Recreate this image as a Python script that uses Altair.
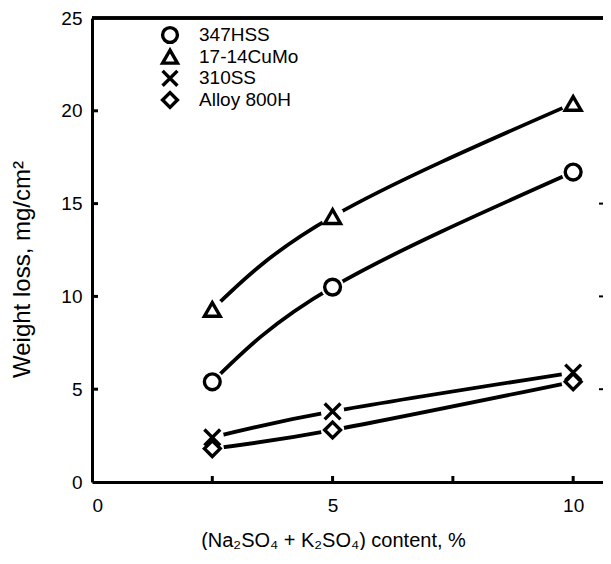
import altair as alt
import pandas as pd

# ---- data ----
content = [2.5, 5, 10]
hss347 = [5.4, 10.5, 16.7]
cumo1714 = [9.3, 14.3, 20.4]
ss310 = [2.4, 3.8, 5.9]
alloy800h = [1.8, 2.8, 5.4]
series = ["347HSS", "17-14CuMo", "310SS", "Alloy 800H"]
x_labels = [0, 5, 10]
x_minor = [2.5, 5, 7.5, 10]
y_labels = [0, 5, 10, 15, 20, 25]
y_inner = [5, 10, 15, 20]
y_right = [5, 10, 15]

rows = []
for name, vals in zip(series, [hss347, cumo1714, ss310, alloy800h]):
    for c, v in zip(content, vals):
        rows.append({"content": c, "loss": v, "series": name})
df = pd.DataFrame(rows)
leg = pd.DataFrame({"series": series})

W, H = 511, 464
FONT = "Liberation Sans"

x_scale = alt.Scale(domain=[0, 10.62], nice=False, zero=False)
y_scale = alt.Scale(domain=[0, 25], nice=False)

x_enc = alt.X(
    "content:Q",
    scale=x_scale,
    axis=alt.Axis(
        values=x_labels, ticks=False, grid=False, domainColor="black", domainWidth=3,
        labelFontSize=19, labelPadding=14, labelColor="black", labelFont=FONT,
        title="(Na₂SO₄ + K₂SO₄) content, %", titleFontSize=20, titleFont=FONT,
        titleFontWeight="normal", titleColor="black", titleX=241, titleY=58,
        titleAnchor="middle", titleAlign="center", titleBaseline="middle",
    ),
)
y_axis = alt.Axis(
    values=y_labels, ticks=False, grid=False, domainColor="black", domainWidth=3,
    labelFontSize=19, labelPadding=10, labelColor="black", labelFont=FONT,
    title="Weight loss, mg/cm²", titleFontSize=24, titleFont=FONT,
    titleFontWeight="normal", titleColor="black", titleX=-70, titleY=251,
    titleAngle=-90, titleBaseline="middle", titleAlign="center",
)
y_main = alt.Y("loss:Q", scale=y_scale, axis=y_axis)
y_plain = alt.Y("loss:Q", scale=y_scale, axis=None)

shape_scale = alt.Scale(
    domain=series,
    range=["circle", "triangle-up", "M-1,-1L1,1M-1,1L1,-1", "diamond"],
)

base = alt.Chart(df)

lines = base.mark_line(interpolate="natural", color="black", strokeWidth=3.8).encode(
    x=x_enc, y=y_main, detail="series:N"
)
halo = base.mark_point(filled=True, color="white", size=540, opacity=1, shape="circle").encode(
    x=x_enc, y=y_plain
)
points = base.mark_point(
    filled=False, fill="white", fillOpacity=1, stroke="black", strokeWidth=3.4, opacity=1, size=250
).encode(
    x=x_enc, y=y_plain,
    shape=alt.Shape("series:N", scale=shape_scale, legend=None),
)

# legend drawn as its own layer
leg_y = alt.Y("series:N", scale=alt.Scale(domain=series, range=[17, 82], padding=0), axis=None)
leg_pts = alt.Chart(leg).mark_point(
    filled=False, fill="white", fillOpacity=1, stroke="black", strokeWidth=3.4, opacity=1, size=220
).encode(
    x=alt.value(78), y=leg_y,
    shape=alt.Shape("series:N", scale=shape_scale, legend=None),
)
leg_txt = alt.Chart(leg).mark_text(
    align="left", baseline="middle", fontSize=19, font=FONT, color="black"
).encode(x=alt.value(107), y=leg_y, text="series:N")

yt = pd.DataFrame({"loss": y_inner})
yr = pd.DataFrame({"loss": y_right})
xt = pd.DataFrame({"content": x_minor})

y_ticks = alt.Chart(yt).mark_rule(color="black", strokeWidth=3).encode(
    y=y_plain, x=alt.value(0), x2=alt.value(6)
)
r_ticks = alt.Chart(yr).mark_rule(color="black", strokeWidth=2).encode(
    y=y_plain, x=alt.value(W - 4), x2=alt.value(W)
)
x_ticks = alt.Chart(xt).mark_rule(color="black", strokeWidth=3).encode(
    x=x_enc, y=alt.value(H), y2=alt.value(H - 6)
)
top = alt.Chart(xt).mark_rule(color="black", strokeWidth=3).encode(
    x=alt.value(0), x2=alt.value(W), y=alt.value(0)
)

chart = (
    alt.layer(top, y_ticks, r_ticks, x_ticks, lines, halo, points, leg_pts, leg_txt)
    .resolve_scale(y="independent")
    .properties(
        width=W, height=H,
        autosize=alt.AutoSizeParams(type="none"),
        padding={"left": 84, "top": 10, "right": 0, "bottom": 68},
        background="white",
    )
    .configure_view(stroke=None)
)

chart.save("out.html", embed_options={"renderer": "svg", "actions": False})
